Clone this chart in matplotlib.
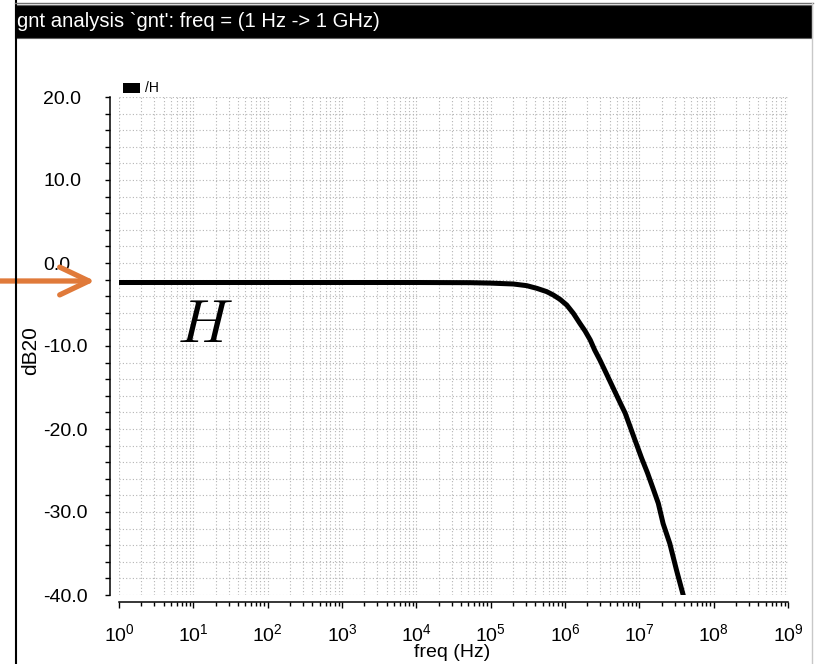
import numpy as np
import matplotlib
matplotlib.use('Agg')
import matplotlib.pyplot as plt
from matplotlib.patches import Rectangle
from matplotlib.lines import Line2D
from matplotlib.ticker import LogLocator, MultipleLocator, NullFormatter, FormatStrFormatter

plt.rcParams['font.family'] = ['Liberation Sans', 'DejaVu Sans']
plt.rcParams['mathtext.fontset'] = 'custom'
plt.rcParams['mathtext.rm'] = 'Liberation Sans'
plt.rcParams['mathtext.it'] = 'Liberation Sans:italic'

# ac sweep of node H (magnitude in dB), log10 of frequency in Hz
log_freq = [0, 1, 2, 3, 4, 4.72, 4.99, 5.305, 5.485, 5.62, 5.754, 5.843, 5.933,
            6.023, 6.112, 6.20, 6.27, 6.34, 6.40, 6.47, 6.55, 6.65, 6.74, 6.81,
            6.875, 6.94, 7.03, 7.11, 7.19, 7.255, 7.32, 7.41, 7.50, 7.59, 7.61]
gain_db = [-2.35, -2.35, -2.35, -2.35, -2.35, -2.37, -2.42, -2.53, -2.73,
           -3.05, -3.45, -3.86, -4.38, -5.06, -6.06, -7.27, -8.19, -9.28,
           -10.5, -11.7, -13.2, -15.1, -16.8, -18.1, -19.7, -21.3, -23.5,
           -25.3, -27.3, -28.95, -31.4, -33.8, -37.0, -40.0, -40.8]
freq = [10 ** v for v in log_freq]

title = "gnt analysis `gnt': freq = (1 Hz -> 1 GHz)"
trace_name = '/H'

W, H = 815, 664
fig = plt.figure(figsize=(W / 100, H / 100), dpi=100)

# window frame + title bar (pixel coords, y measured from top)
def px(x, y):
    return x / W, 1 - y / H

fig.add_artist(Line2D([16 / W, 16 / W], [0, 1], color='black', lw=1.5))
fig.add_artist(Line2D([15 / W, 813 / W], [1 - 2.5 / H, 1 - 2.5 / H], color='#707070', lw=1.0))
fig.add_artist(Line2D([812 / W, 812 / W], [0, 1 - 3 / H], color='#c8c8c8', lw=1.0))
x0, y0 = px(15, 38)
fig.add_artist(Rectangle((x0, y0), (812 - 15) / W, 33 / H, facecolor='black',
                         edgecolor='#606060', lw=0.8))
fig.text(17 / W, 1 - 21.5 / H, title, color='white', fontsize=14.6, va='center', ha='left')

ax = fig.add_axes([119 / W, 1 - 595 / H, (788 - 119) / W, (595 - 97) / H])
ax.plot(freq, gain_db, color='black', lw=3.6, solid_capstyle='butt',
        solid_joinstyle='round')

ax.set_xscale('log')
ax.set_xlim(1, 1e9)
ax.set_ylim(-40, 20)

ax.xaxis.set_major_locator(LogLocator(base=10, numticks=12))
ax.xaxis.set_minor_locator(LogLocator(base=10, subs=np.arange(2, 10), numticks=12))
ax.xaxis.set_minor_formatter(NullFormatter())
ax.yaxis.set_major_locator(MultipleLocator(10))
ax.yaxis.set_minor_locator(MultipleLocator(2))
ax.yaxis.set_major_formatter(FormatStrFormatter('%.1f'))

ax.grid(which='both', color='#b4b4b4', lw=0.8, linestyle=(0, (1, 2)))

for s in ['top', 'right']:
    ax.spines[s].set_visible(False)
ax.spines['left'].set_position(('outward', 6.5))
ax.spines['bottom'].set_position(('outward', 5))
ax.spines['left'].set_linewidth(1.1)
ax.spines['bottom'].set_linewidth(1.1)

ax.tick_params(axis='y', which='both', direction='out', length=3.6, width=1.0,
               labelsize=14, pad=44.6)
ax.tick_params(axis='x', which='major', direction='out', length=4.5, width=1.0,
               labelsize=14, pad=10.5)
ax.tick_params(axis='x', which='minor', direction='out', length=3.0, width=1.0)
plt.setp(ax.get_yticklabels(), ha='left')

ax.set_xlabel('freq (Hz)', fontsize=14, va='center')
ax.xaxis.set_label_coords(0.498, -0.1145)
ax.set_ylabel('dB20', fontsize=15, va='center')
ax.yaxis.set_label_coords(-0.1315, 0.49)

# legend swatch
lx, ly = px(123, 93)
fig.add_artist(Rectangle((lx, ly), 17 / W, 10 / H, facecolor='black', edgecolor='none'))
fig.text(145 / W, 1 - 88 / H, trace_name, fontsize=10, va='center', ha='left')

# node label and marker arrow
ax.text(0.1286, 0.54, '$H$', transform=ax.transAxes, fontsize=44,
        math_fontfamily='cm', ha='center', va='center')
ax.annotate('', xy=(95, H - 281), xycoords='figure pixels',
            xytext=(0, H - 281), textcoords='figure pixels',
            arrowprops=dict(arrowstyle='->,head_length=1.05,head_width=0.5',
                            lw=3.8, color='#e07a3a', mutation_scale=20,
                            shrinkA=0, shrinkB=0), annotation_clip=False)

fig.savefig('out.png', dpi=100)
